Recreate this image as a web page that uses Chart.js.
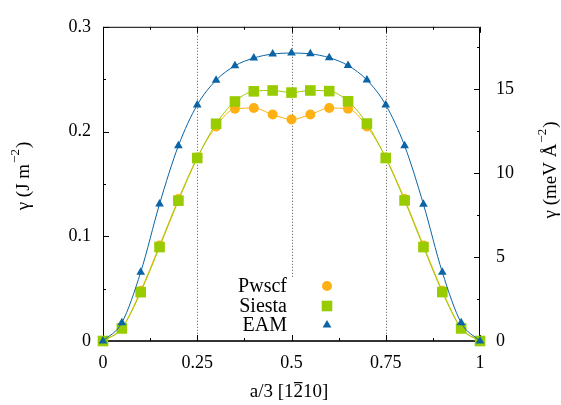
<!DOCTYPE html>
<html>
<head>
<meta charset="utf-8">
<script src="https://cdn.jsdelivr.net/npm/chart.js@4"></script>
<style>
  html, body { margin: 0; padding: 0; background: #fff; }
  #wrap { width: 561px; height: 405px; }
</style>
</head>
<body>
<div id="wrap"><canvas id="gammaChart"></canvas></div>
<script>
// displacement along a/3 [1-210]
var shifts = [0, 0.05, 0.1, 0.15, 0.2, 0.25, 0.3, 0.35, 0.4, 0.45, 0.5,
              0.55, 0.6, 0.65, 0.7, 0.75, 0.8, 0.85, 0.9, 0.95, 1];
// gamma energy, J/m^2
var pwscf  = [0, 0.0125, 0.048, 0.0912, 0.1355, 0.1752, 0.2049, 0.2217, 0.2224, 0.2162, 0.2116,
              0.2162, 0.2224, 0.2217, 0.2049, 0.1752, 0.1355, 0.0912, 0.048, 0.0125, 0];
var siesta = [0, 0.012, 0.0466, 0.0897, 0.134, 0.1747, 0.2074, 0.2287, 0.2384, 0.2392, 0.2372,
              0.2392, 0.2386, 0.2289, 0.2076, 0.1747, 0.1342, 0.0897, 0.0467, 0.012, 0];
var eam    = [0, 0.0175, 0.0657, 0.1308, 0.1864, 0.2254, 0.249, 0.2628, 0.2702, 0.274, 0.2749,
              0.2742, 0.2705, 0.263, 0.2492, 0.2254, 0.1864, 0.1305, 0.0657, 0.0175, 0];

var xTicks = [0, 0.25, 0.5, 0.75, 1];
var xMinor = [0.125, 0.375, 0.625, 0.875];
var yTicks = [0, 0.1, 0.2, 0.3];
var yMinor = [0.05, 0.15, 0.25];
var y2Ticks = [0, 5, 10, 15];
var y2Minor = [2.5, 7.5, 12.5, 17.5];
var JM2_TO_MEV = 62.415; // 1 J/m^2 in meV/A^2

var ORANGE = '#ffb012', GREEN = '#99cc00', BLUE = '#0a64a6';
var FONT = "'Liberation Serif', 'DejaVu Serif', serif";

function pts(arr) {
	return arr.map(function (v, i) { return { x: shifts[i], y: v }; });
}

function setTicks(list) {
	return function (scale) {
		scale.ticks = list.map(function (v) { return { value: v }; });
	};
}

function fmt(v) {
	return String(+Number(v).toFixed(4));
}

// draw text with a "-2" superscript in the middle, centred at 0,0
function richText(ctx, before, sup, after) {
	ctx.font = '19px ' + FONT;
	var w1 = ctx.measureText(before).width;
	var w3 = ctx.measureText(after).width;
	ctx.font = '13px ' + FONT;
	var w2 = ctx.measureText(sup).width;
	var x = -(w1 + w2 + w3) / 2;
	ctx.textAlign = 'left';
	ctx.textBaseline = 'middle';
	ctx.font = '19px ' + FONT;
	ctx.fillText(before, x, 0);
	ctx.font = '13px ' + FONT;
	ctx.fillText(sup, x + w1 + 1, -8);
	ctx.font = '19px ' + FONT;
	ctx.fillText(after, x + w1 + w2 + 2, 0);
}

var framePlugin = {
	id: 'frame',
	beforeDatasetsDraw: function (chart) {
		var ctx = chart.ctx, a = chart.chartArea;
		var x = chart.scales.x, y = chart.scales.y, y1 = chart.scales.y1;
		ctx.save();
		// dotted vertical grid
		ctx.strokeStyle = '#555';
		ctx.lineWidth = 1;
		ctx.setLineDash([1, 2]);
		[0.25, 0.5, 0.75].forEach(function (v) {
			var px = Math.round(x.getPixelForValue(v)) + 0.5;
			ctx.beginPath(); ctx.moveTo(px, a.top); ctx.lineTo(px, a.bottom); ctx.stroke();
		});
		ctx.setLineDash([]);
		// key box (opaque)
		ctx.fillStyle = '#fff';
		ctx.fillRect(232, 277, 110, a.bottom - 278);
		// border
		ctx.strokeStyle = '#000';
		ctx.beginPath();
		ctx.moveTo(a.left + 0.5, a.bottom); ctx.lineTo(a.left + 0.5, a.top + 0.5);
		ctx.lineTo(a.right - 0.5, a.top + 0.5); ctx.lineTo(a.right - 0.5, a.bottom);
		ctx.stroke();
		ctx.strokeStyle = '#333';
		ctx.lineWidth = 2;
		ctx.beginPath(); ctx.moveTo(a.left, a.bottom); ctx.lineTo(a.right, a.bottom); ctx.stroke();
		// inward ticks
		ctx.strokeStyle = '#000';
		ctx.lineWidth = 1;
		function hTick(v, len) {
			var px = Math.round(x.getPixelForValue(v)) + 0.5;
			ctx.beginPath(); ctx.moveTo(px, a.bottom); ctx.lineTo(px, a.bottom - len); ctx.stroke();
			ctx.beginPath(); ctx.moveTo(px, a.top); ctx.lineTo(px, a.top + len); ctx.stroke();
		}
		xTicks.forEach(function (v) { hTick(v, 6); });
		xMinor.forEach(function (v) { hTick(v, 3); });
		function vTick(scale, v, len, left) {
			var py = Math.round(scale.getPixelForValue(v)) + 0.5;
			var x0 = left ? a.left : a.right;
			var x1 = left ? a.left + len : a.right - len;
			ctx.beginPath(); ctx.moveTo(x0, py); ctx.lineTo(x1, py); ctx.stroke();
		}
		yTicks.forEach(function (v) { vTick(y, v, 6, true); });
		yMinor.forEach(function (v) { vTick(y, v, 3, true); });
		y2Ticks.forEach(function (v) { vTick(y1, v, 6, false); });
		y2Minor.forEach(function (v) { vTick(y1, v, 3, false); });
		ctx.restore();
	},
	afterDraw: function (chart) {
		var ctx = chart.ctx;
		ctx.save();
		ctx.fillStyle = '#000';
		// key
		var names = ['Pwscf', 'Siesta', 'EAM'];
		var rows = [286, 306, 325];
		ctx.font = '20px ' + FONT;
		ctx.textAlign = 'right';
		ctx.textBaseline = 'middle';
		names.forEach(function (n, i) { ctx.fillText(n, 287, rows[i] + 1); });
		var sx = 327;
		ctx.fillStyle = ORANGE;
		ctx.beginPath(); ctx.arc(sx, rows[0], 5, 0, Math.PI * 2); ctx.fill();
		ctx.fillStyle = GREEN;
		ctx.fillRect(sx - 5.3, rows[1] - 5.3, 10.6, 10.6);
		ctx.fillStyle = BLUE;
		ctx.beginPath();
		ctx.moveTo(sx, rows[2] - 5); ctx.lineTo(sx + 4.4, rows[2] + 2.6); ctx.lineTo(sx - 4.4, rows[2] + 2.6);
		ctx.closePath(); ctx.fill();

		// axis titles
		ctx.fillStyle = '#000';
		ctx.save();
		ctx.translate(24, 177);
		ctx.rotate(-Math.PI / 2);
		richText(ctx, '\u03b3 (J m', '\u22122', ')');
		ctx.restore();

		ctx.save();
		ctx.translate(551, 171);
		ctx.rotate(-Math.PI / 2);
		richText(ctx, '\u03b3 (meV \u00c5', '\u22122', ')');
		ctx.restore();

		// a/3 [1 2bar 1 0]
		ctx.font = '19px ' + FONT;
		ctx.textBaseline = 'middle';
		ctx.textAlign = 'left';
		var p1 = 'a/3 [1', p2 = '2', p3 = '10]';
		var w1 = ctx.measureText(p1).width, w2 = ctx.measureText(p2).width, w3 = ctx.measureText(p3).width;
		var tx = 289 - (w1 + w2 + w3) / 2, ty = 392;
		ctx.fillText(p1, tx, ty);
		ctx.fillText(p2, tx + w1, ty);
		ctx.fillText(p3, tx + w1 + w2, ty);
		ctx.fillRect(tx + w1 + 0.5, ty - 10, w2 - 1, 1.2);
		ctx.restore();
	}
};

function buildGamma() {
	var ctx = document.getElementById('gammaChart');
	var tickFont = { family: FONT, size: 18 };
	var noGrid = { display: false, drawTicks: false, tickLength: 0 };
	return new Chart(ctx, {
		type: 'line',
		data: {
			datasets: [
				{
					label: 'Pwscf', data: pts(pwscf), order: 3,
					borderColor: ORANGE, backgroundColor: ORANGE, borderWidth: 1,
					pointStyle: 'circle', pointRadius: 5, pointBorderWidth: 0,
					cubicInterpolationMode: 'monotone'
				},
				{
					label: 'Siesta', data: pts(siesta), order: 2,
					borderColor: GREEN, backgroundColor: GREEN, borderWidth: 1,
					pointStyle: 'rect', pointRadius: 7.5, pointBorderWidth: 0,
					cubicInterpolationMode: 'monotone'
				},
				{
					label: 'EAM', data: pts(eam), order: 1,
					borderColor: BLUE, backgroundColor: BLUE, borderWidth: 1,
					pointStyle: 'triangle', pointRadius: 5, pointBorderWidth: 0,
					cubicInterpolationMode: 'monotone'
				}
			]
		},
		options: {
			responsive: true,
			maintainAspectRatio: false,
			animation: false,
			clip: false,
			layout: { padding: { top: 15, left: 0, right: 0, bottom: 0 } },
			plugins: { legend: { display: false }, tooltip: { enabled: false } },
			scales: {
				x: {
					type: 'linear', min: 0, max: 1,
					grid: noGrid, border: { display: false },
					afterBuildTicks: setTicks(xTicks),
					afterFit: function (s) { s.height = 64; },
					ticks: { font: tickFont, color: '#000', padding: 11, maxRotation: 0, callback: fmt }
				},
				y: {
					position: 'left', min: 0, max: 0.3,
					grid: noGrid, border: { display: false },
					afterBuildTicks: setTicks(yTicks),
					afterFit: function (s) { s.width = 103; },
					ticks: { font: tickFont, color: '#000', padding: 12, callback: fmt }
				},
				y1: {
					position: 'right', min: 0, max: 0.3 * JM2_TO_MEV,
					grid: noGrid, border: { display: false },
					afterBuildTicks: setTicks(y2Ticks),
					afterFit: function (s) { s.width = 81; },
					ticks: { font: tickFont, color: '#000', padding: 16, callback: fmt }
				}
			}
		},
		plugins: [framePlugin]
	});
}

if (document.fonts && document.fonts.load) {
	document.fonts.load("19px 'Liberation Serif'").then(function () {
		window.gammaChart = buildGamma();
	}, function () {
		window.gammaChart = buildGamma();
	});
} else {
	window.gammaChart = buildGamma();
}
</script>
</body>
</html>
